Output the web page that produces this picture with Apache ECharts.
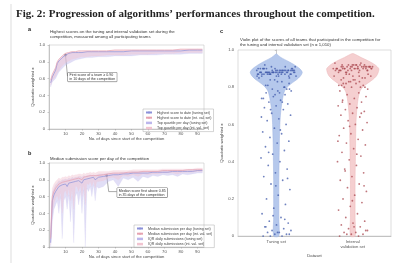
<!DOCTYPE html>
<html>
<head>
<meta charset="utf-8">
<script src="https://cdn.jsdelivr.net/npm/echarts@6/dist/echarts.min.js"></script>
<style>
  html, body { margin: 0; padding: 0; background: #fff; }
  #main { width: 394px; height: 263px; }
</style>
</head>
<body>
<div id="main"></div>
<script>
// panel a: best scores to date
const daysA = [1,2,3,4,5,6,7,8,9,10,11,12,13,14,16,18,20,23,26,30,35,40,45,50,55,60,65,70,75,80,85,90,93];
const highTuning = [0.55,0.62,0.66,0.70,0.78,0.81,0.83,0.85,0.87,0.88,0.89,0.90,0.90,0.91,0.91,0.91,0.91,0.92,0.92,0.92,0.92,0.92,0.92,0.93,0.93,0.93,0.93,0.93,0.93,0.93,0.94,0.94,0.94];
const highVal = [0.58,0.65,0.69,0.73,0.80,0.83,0.85,0.87,0.89,0.90,0.91,0.91,0.92,0.92,0.92,0.93,0.93,0.93,0.93,0.93,0.93,0.94,0.94,0.94,0.94,0.94,0.94,0.94,0.94,0.95,0.95,0.95,0.95];
const quartLowTuning = [0.50,0.56,0.58,0.60,0.64,0.68,0.70,0.72,0.74,0.76,0.77,0.78,0.79,0.80,0.82,0.83,0.84,0.85,0.85,0.86,0.86,0.87,0.87,0.87,0.88,0.88,0.88,0.89,0.89,0.89,0.90,0.90,0.90];
const quartLowVal = [0.52,0.58,0.60,0.63,0.67,0.70,0.73,0.75,0.77,0.79,0.80,0.81,0.82,0.83,0.84,0.85,0.86,0.86,0.87,0.87,0.88,0.88,0.88,0.89,0.89,0.89,0.90,0.90,0.90,0.91,0.91,0.91,0.91];

// panel b: median daily submission
const daysB = [1,2,3,4,5,6,7,8,9,10,11,12,13,14,15,16,17,18,19,20,21,22,23,24,25,26,27,28,29,30,33,36,39,42,45,48,51,54,57,60,63,66,69,72,75,78,81,84,87,90,93];
const medTuning = [0.05,0.55,0.62,0.66,0.68,0.72,0.70,0.74,0.73,0.75,0.72,0.76,0.74,0.77,0.75,0.78,0.77,0.79,0.78,0.76,0.80,0.79,0.81,0.80,0.82,0.81,0.83,0.80,0.82,0.83,0.84,0.85,0.86,0.86,0.87,0.87,0.88,0.88,0.88,0.88,0.89,0.89,0.89,0.89,0.90,0.90,0.90,0.90,0.90,0.91,0.91];
const medVal = [0.10,0.60,0.66,0.70,0.72,0.75,0.74,0.77,0.76,0.78,0.76,0.79,0.77,0.80,0.78,0.81,0.80,0.82,0.81,0.80,0.83,0.82,0.84,0.83,0.85,0.84,0.85,0.83,0.85,0.86,0.86,0.87,0.88,0.88,0.88,0.89,0.89,0.89,0.90,0.90,0.90,0.90,0.91,0.91,0.91,0.91,0.91,0.92,0.92,0.92,0.92];
const iqrLowTuning = [0.00,0.30,0.45,0.50,0.55,0.40,0.60,0.10,0.55,0.60,0.45,0.62,0.30,0.60,0.05,0.60,0.65,0.50,0.66,0.40,0.68,0.00,0.70,0.66,0.72,0.60,0.74,0.55,0.72,0.70,0.72,0.78,0.80,0.72,0.82,0.80,0.83,0.78,0.84,0.82,0.85,0.84,0.86,0.85,0.86,0.84,0.87,0.86,0.87,0.88,0.88];
const iqrHighTuning = [0.20,0.65,0.70,0.74,0.76,0.79,0.78,0.80,0.80,0.81,0.80,0.82,0.81,0.83,0.82,0.83,0.83,0.84,0.84,0.83,0.85,0.84,0.85,0.85,0.86,0.85,0.86,0.85,0.86,0.87,0.87,0.88,0.88,0.88,0.89,0.89,0.90,0.90,0.90,0.90,0.90,0.90,0.91,0.91,0.91,0.91,0.91,0.91,0.92,0.92,0.92];
const iqrLowVal = [0.02,0.40,0.52,0.58,0.62,0.55,0.66,0.40,0.64,0.68,0.60,0.70,0.55,0.70,0.45,0.72,0.72,0.66,0.74,0.60,0.75,0.50,0.76,0.74,0.78,0.72,0.79,0.70,0.78,0.78,0.79,0.82,0.83,0.80,0.85,0.84,0.86,0.84,0.87,0.86,0.87,0.87,0.88,0.88,0.88,0.87,0.89,0.89,0.89,0.90,0.90];
const iqrHighVal = [0.30,0.70,0.75,0.78,0.80,0.82,0.81,0.83,0.83,0.84,0.83,0.85,0.84,0.86,0.85,0.86,0.86,0.87,0.87,0.86,0.88,0.87,0.88,0.88,0.89,0.88,0.89,0.88,0.89,0.90,0.90,0.90,0.91,0.91,0.91,0.91,0.92,0.92,0.92,0.92,0.92,0.92,0.93,0.93,0.93,0.93,0.93,0.93,0.93,0.94,0.94];

// panel c: final scores of all teams (sample)
const setNames = ['Tuning set', 'Internal\nvalidation set'];
const violinLevels = [0, 0.1, 0.2, 0.3, 0.4, 0.5, 0.6, 0.65, 0.7, 0.75, 0.78, 0.8, 0.82, 0.84, 0.86, 0.88, 0.9, 0.92, 0.94, 0.96, 0.98];
const violinTuning = [0.10,0.10,0.10,0.10,0.11,0.12,0.14,0.16,0.20,0.26,0.32,0.42,0.58,0.78,0.93,1.00,0.90,0.70,0.45,0.18,0.0];
const violinVal = [0.09,0.09,0.09,0.09,0.10,0.11,0.12,0.14,0.17,0.22,0.28,0.38,0.56,0.76,0.91,0.98,1.00,0.86,0.62,0.32,0.04];
const tuningScores = [
  0.88,0.89,0.87,0.90,0.88,0.89,0.86,0.88,0.90,0.87,0.89,0.88,0.91,0.87,0.88,0.89,0.90,0.86,0.88,0.87,
  0.89,0.88,0.90,0.89,0.87,0.88,0.91,0.86,0.89,0.88,0.87,0.90,0.88,0.89,0.87,0.88,0.86,0.90,0.89,0.88,
  0.87,0.89,0.88,0.90,0.86,0.88,0.89,0.87,0.91,0.88,0.92,0.85,0.84,0.85,0.83,0.84,0.82,0.83,0.81,0.80,
  0.88,0.89,0.87,0.88,0.89,0.88,0.90,0.87,0.88,0.89,0.88,0.87,0.89,0.88,0.90,0.88,0.87,0.89,0.88,0.86,
  0.80,0.79,0.78,0.77,0.81,0.79,0.76,0.74,0.72,0.68,0.79,0.78,0.77,0.76,0.75,0.74,0.73,0.72,0.71,0.70,
  0.69,0.68,0.66,0.65,0.63,0.62,0.60,0.58,0.56,0.55,0.53,0.51,0.50,0.48,0.46,0.44,0.42,0.40,0.38,0.36,
  0.34,0.32,0.30,0.28,0.25,0.22,0.20,0.17,0.15,0.12,0.10,0.08,0.07,0.06,0.05,0.04,0.03,0.03,0.02,0.02,
  0.01,0.01,0.00,0.00,0.00,0.01,0.02,0.05,0.09,0.11,0.64,0.57,0.45,0.31,0.27
];
const valScores = [
  0.90,0.91,0.89,0.92,0.90,0.91,0.88,0.90,0.92,0.89,0.91,0.90,0.93,0.89,0.90,0.91,0.92,0.88,0.90,0.89,
  0.91,0.90,0.92,0.91,0.89,0.90,0.93,0.88,0.91,0.90,0.89,0.92,0.87,0.86,0.88,0.85,0.87,0.86,0.84,0.85,
  0.91,0.90,0.92,0.91,0.90,0.91,0.89,0.92,0.90,0.91,0.90,0.89,0.91,0.92,0.90,0.91,0.90,0.89,0.91,0.90,
  0.83,0.87,0.86,0.84,0.82,0.85,0.83,0.81,0.86,0.82,0.80,0.84,0.81,0.80,0.83,0.79,0.82,0.80,0.81,0.80,
  0.78,0.77,0.76,0.75,0.74,0.73,0.72,0.71,0.70,0.69,0.68,0.67,0.66,0.65,0.64,0.62,0.61,0.60,0.58,0.57,
  0.55,0.54,0.52,0.50,0.49,0.47,0.45,0.43,0.41,0.40,0.38,0.36,0.34,0.32,0.30,0.28,0.26,0.24,0.22,0.20,
  0.18,0.16,0.14,0.12,0.10,0.08,0.07,0.06,0.05,0.04,0.03,0.02,0.02,0.01,0.01,0.00,0.00,0.01,0.03,0.05,
  0.72,0.66,0.59,0.51,0.44,0.35,0.27,0.19
];

const cBlue = '#8b90d9', cRed = '#e6a2b0';
const tickFont = { fontSize: 4.2, color: '#555', fontFamily: 'Liberation Sans' };
const nameFont = { fontSize: 4.2, color: '#444', fontFamily: 'Liberation Sans' };

function pairs(xs, ys) { return xs.map((x, i) => [x, ys[i]]); }
// deterministic horizontal jitter for the strip points
function jit(i) { return ((i * 0.618034 + 0.31) % 1) * 2 - 1; }

function dayAxis(gi) {
  return {
    type: 'value', gridIndex: gi, min: 0, max: 94, interval: 10,
    name: 'No. of days since start of the competition', nameLocation: 'middle', nameGap: 8, nameTextStyle: nameFont,
    axisLine: { lineStyle: { color: '#999', width: 0.5 } },
    axisTick: { length: 1.5, lineStyle: { color: '#999', width: 0.5 } },
    axisLabel: Object.assign({ margin: 3, showMaxLabel: false, formatter: v => (v > 0 && v % 10 === 0) ? v : '' }, tickFont),
    splitLine: { show: false }
  };
}
function kappaAxis(gi, gap) {
  return {
    type: 'value', gridIndex: gi, min: 0, max: 1, interval: 0.2,
    name: 'Quadratic weighted κ', nameLocation: 'middle', nameGap: gap, nameTextStyle: nameFont,
    axisLine: { show: true, lineStyle: { color: '#999', width: 0.5 } },
    axisTick: { show: true, length: 1.5, lineStyle: { color: '#999', width: 0.5 } },
    axisLabel: Object.assign({ margin: 4, formatter: v => v === 0 ? '0' : v.toFixed(1) }, tickFont),
    splitLine: { show: false }
  };
}
// shaded band between lo and hi, drawn as one polygon through the axes
function band(name, xi, xs, lo, hi, color) {
  return {
    name: name, type: 'custom', xAxisIndex: xi, yAxisIndex: xi, silent: true,
    itemStyle: { color: color },
    data: xs.map((x, i) => [x, lo[i], hi[i]]),
    encode: { x: 0, y: [1, 2] },
    renderItem: function (params, api) {
      if (params.dataIndexInside !== 0) return null;
      const n = params.dataInsideLength, top = [], bot = [];
      for (let j = 0; j < n; j++) {
        const x = api.value(0, j);
        top.push(api.coord([x, api.value(2, j)]));
        bot.unshift(api.coord([x, api.value(1, j)]));
      }
      return { type: 'polygon', shape: { points: top.concat(bot) },
        style: { fill: color, opacity: 0.45, stroke: color, lineWidth: 0.3 } };
    }
  };
}
function line(name, xi, xs, ys, color) {
  return { name: name, type: 'line', xAxisIndex: xi, yAxisIndex: xi, data: pairs(xs, ys), symbol: 'none',
    lineStyle: { width: 0.7, color: color }, itemStyle: { color: color } };
}

const chart = echarts.init(document.getElementById('main'), null, { renderer: 'canvas' });

const panelTitle = { fontSize: 4.3, color: '#333', fontWeight: 'normal', fontFamily: 'Liberation Sans', lineHeight: 5 };
const letter = { fontSize: 5.5, color: '#222', fontWeight: 'bold', fontFamily: 'Liberation Sans' };
const legendBase = {
  orient: 'vertical', itemWidth: 6, itemHeight: 2.5, itemGap: 1.2,
  borderColor: '#aaa', borderWidth: 0.5, padding: [1.5, 2],
  textStyle: { fontSize: 3.6, color: '#444', fontFamily: 'Liberation Sans' }
};

const option = {
  animation: false,
  title: [
    { text: 'Fig. 2: Progression of algorithms\u2019 performances throughout the competition.', left: 16, top: 9, padding: 0,
      textStyle: { fontSize: 11, fontWeight: 'bold', color: '#222', fontFamily: 'Liberation Serif' } },
    { text: 'a', left: 28, top: 26, padding: 0, textStyle: letter },
    { text: 'Highest scores on the tuning and internal validation set during the\ncompetition, measured among all participating teams', left: 50, top: 29, padding: 0, textStyle: panelTitle },
    { text: 'b', left: 28, top: 150, padding: 0, textStyle: letter },
    { text: 'Median submission score per day of the competition', left: 50, top: 156, padding: 0, textStyle: panelTitle },
    { text: 'c', left: 220, top: 28, padding: 0, textStyle: letter },
    { text: 'Violin plot of the scores of all teams that participated in the competition for\nthe tuning and internal validation set (n = 1,010)', left: 240, top: 37, padding: 0, textStyle: panelTitle }
  ],
  legend: [
    Object.assign({ left: 143, top: 109, data: [
      { name: 'Highest score to date (tuning set)' }, { name: 'Highest score to date (int. val. set)' },
      { name: 'Top quartile per day (tuning set)', icon: 'rect' }, { name: 'Top quartile per day (int. val. set)', icon: 'rect' }
    ] }, legendBase),
    Object.assign({ left: 134, top: 225, data: [
      { name: 'Median submission per day (tuning set)' }, { name: 'Median submission per day (int. val. set)' },
      { name: 'IQR daily submissions (tuning set)', icon: 'rect' }, { name: 'IQR daily submissions (int. val. set)', icon: 'rect' }
    ] }, legendBase)
  ],
  grid: [
    { left: 49, top: 45, width: 155, height: 84, show: true, borderColor: '#bbb', borderWidth: 0.5 },
    { left: 49, top: 163, width: 155, height: 84, show: true, borderColor: '#bbb', borderWidth: 0.5 },
    { left: 238, top: 50, width: 153, height: 192, show: true, borderColor: '#bbb', borderWidth: 0.5 }
  ],
  xAxis: [
    dayAxis(0), dayAxis(1),
    { type: 'category', gridIndex: 2, data: setNames, name: 'Dataset', nameLocation: 'middle', nameGap: 13, nameTextStyle: nameFont,
      axisLine: { lineStyle: { color: '#999', width: 0.5 } }, axisTick: { show: false },
      axisLabel: Object.assign({ margin: 3, lineHeight: 5 }, tickFont) },
    { type: 'value', gridIndex: 2, min: -0.5, max: 1.5, show: false }
  ],
  yAxis: [kappaAxis(0, 14), kappaAxis(1, 14), kappaAxis(2, 14)],
  series: [
    band('Top quartile per day (tuning set)', 0, daysA, quartLowTuning, highTuning, '#bcb6ec'),
    band('Top quartile per day (int. val. set)', 0, daysA, quartLowVal, highVal, '#f1c4d0'),
    line('Highest score to date (tuning set)', 0, daysA, highTuning, cBlue),
    line('Highest score to date (int. val. set)', 0, daysA, highVal, cRed),
    band('IQR daily submissions (tuning set)', 1, daysB, iqrLowTuning, iqrHighTuning, '#bcb6ec'),
    band('IQR daily submissions (int. val. set)', 1, daysB, iqrLowVal, iqrHighVal, '#f1c4d0'),
    line('Median submission per day (tuning set)', 1, daysB, medTuning, cBlue),
    line('Median submission per day (int. val. set)', 1, daysB, medVal, cRed),
    {
      type: 'custom', xAxisIndex: 2, yAxisIndex: 2, data: [[0, 0], [1, 0]], silent: true,
      renderItem: function (params, api) {
        const ci = api.value(0);
        const widths = ci === 0 ? violinTuning : violinVal;
        const bw = api.size([1, 0])[0];
        const cx = api.coord([ci, 0])[0];
        const right = [], left = [];
        violinLevels.forEach((lv, k) => {
          const y = api.coord([ci, lv])[1];
          const hw = widths[k] * bw * 0.34;
          right.push([cx + hw, y]);
          left.unshift([cx - hw, y]);
        });
        return {
          type: 'polygon', shape: { points: right.concat(left), smooth: 0.25 },
          style: { fill: ci === 0 ? '#b5c8ec' : '#f5cfd0', stroke: ci === 0 ? '#9db3e0' : '#eab4b6', lineWidth: 0.5 }
        };
      }
    },
    { type: 'scatter', xAxisIndex: 3, yAxisIndex: 2, symbolSize: 1.8, silent: true,
      itemStyle: { color: '#3f58aa', opacity: 0.75 },
      data: tuningScores.map((v, i) => [jit(i) * (v > 0.84 ? 0.26 : 0.2), v]) },
    { type: 'scatter', xAxisIndex: 3, yAxisIndex: 2, symbolSize: 1.8, silent: true,
      itemStyle: { color: '#a9474f', opacity: 0.75 },
      data: valScores.map((v, i) => [1 + jit(i + 7) * (v > 0.84 ? 0.26 : 0.2), v]) }
  ]
};
chart.setOption(option);

// annotation callouts, anchored on data points
function callout(gi, pt, text, dx, dy) {
  const p = chart.convertToPixel({ gridIndex: gi }, pt);
  const bx = p[0] + dx, by = p[1] + dy;
  return [
    { type: 'polyline', shape: { points: [[p[0], p[1]], [p[0] + 2, by + 4], [bx, by + 4]] },
      style: { stroke: '#555', lineWidth: 0.5, fill: null } },
    { type: 'circle', shape: { cx: p[0], cy: p[1], r: 1.3 }, style: { fill: '#555' } },
    { type: 'text', left: bx, top: by, style: {
      text: text, fontSize: 3.6, fill: '#333', fontFamily: 'Liberation Sans', lineHeight: 4,
      backgroundColor: '#fff', borderColor: '#555', borderWidth: 0.5, padding: [0.5, 1.5] } }
  ];
}
chart.setOption({
  graphic: [].concat(
    [{ type: 'line', shape: { x1: 11, y1: 4, x2: 11, y2: 263 }, style: { stroke: '#ddd', lineWidth: 1 } }],
    callout(0, [10, 0.88], 'First score of a team \u2265 0.90\nin 10 days of the competition', 2, 17),
    callout(1, [35, 0.85], 'Median score first above 0.85\nin 35 days of the competition', 10, 12)
  )
});
</script>
</body>
</html>
